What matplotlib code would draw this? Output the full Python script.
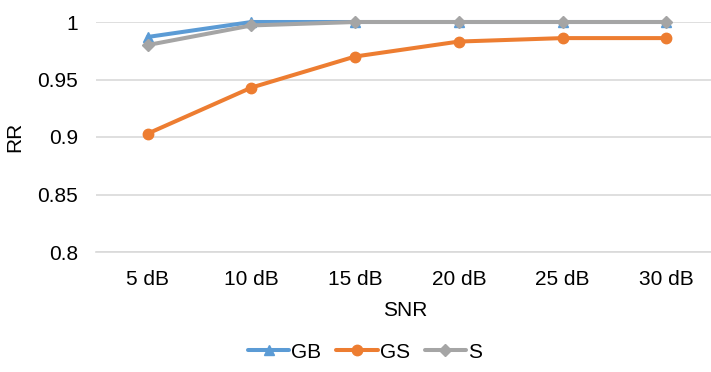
import matplotlib
matplotlib.use("Agg")
import matplotlib.pyplot as plt
import numpy as np

plt.rcParams["font.family"] = ["Liberation Sans", "DejaVu Sans"]

categories = ["5 dB", "10 dB", "15 dB", "20 dB", "25 dB", "30 dB"]
gb = [0.987, 1.0, 1.0, 1.0, 1.0, 1.0]
gs = [0.903, 0.943, 0.970, 0.983, 0.986, 0.986]
s = [0.980, 0.997, 1.0, 1.0, 1.0, 1.0]
yticks = [0.8, 0.85, 0.9, 0.95, 1.0]
ytick_labels = ["0.8", "0.85", "0.9", "0.95", "1"]

W, H = 711, 372
FS = 15
fig = plt.figure(figsize=(W / 100, H / 100), dpi=100)
# axes in pixel coords: left 96, right 718 (clipped), top 22, bottom 252
ax = fig.add_axes([96 / W, (H - 252) / H, 622 / W, 230 / H])

x = np.arange(len(categories))
series = [
    ("GB", gb, "#5B9BD5", "^"),
    ("GS", gs, "#ED7D31", "o"),
    ("S", s, "#A5A5A5", "D"),
]
for name, vals, col, mk in series:
    ms = 7.5 if mk != "D" else 6
    ax.plot(x, vals, color=col, lw=2.9, marker=mk, ms=ms, label=name,
            clip_on=False, zorder=3, solid_capstyle="round")

ax.set_xlim(-0.5, len(categories) - 0.5)
ax.set_ylim(0.8, 1.0)
ax.set_yticks(yticks)
ax.set_yticklabels(ytick_labels)
ax.set_xticks(x)
ax.set_xticklabels(categories)
ax.grid(axis="y", color="#D9D9D9", lw=1.2, zorder=0)
for sp in ["top", "right", "left"]:
    ax.spines[sp].set_visible(False)
ax.spines["bottom"].set_color("#D9D9D9")
ax.spines["bottom"].set_linewidth(1.2)
ax.tick_params(axis="both", length=0, labelsize=FS)
ax.tick_params(axis="x", pad=13)
ax.tick_params(axis="y", pad=13)

fig.text(15 / W, 1 - 137 / H, "RR", rotation=90, ha="center", va="center", fontsize=FS)
fig.text(405 / W, 1 - 311 / H, "SNR", ha="center", va="center", fontsize=FS)

fig.legend(loc="center", bbox_to_anchor=(365 / W, 1 - 352 / H), ncol=3, frameon=False,
           fontsize=FS, handlelength=2.0, handletextpad=0.1, columnspacing=0.7)

fig.savefig("out.png", dpi=100)
